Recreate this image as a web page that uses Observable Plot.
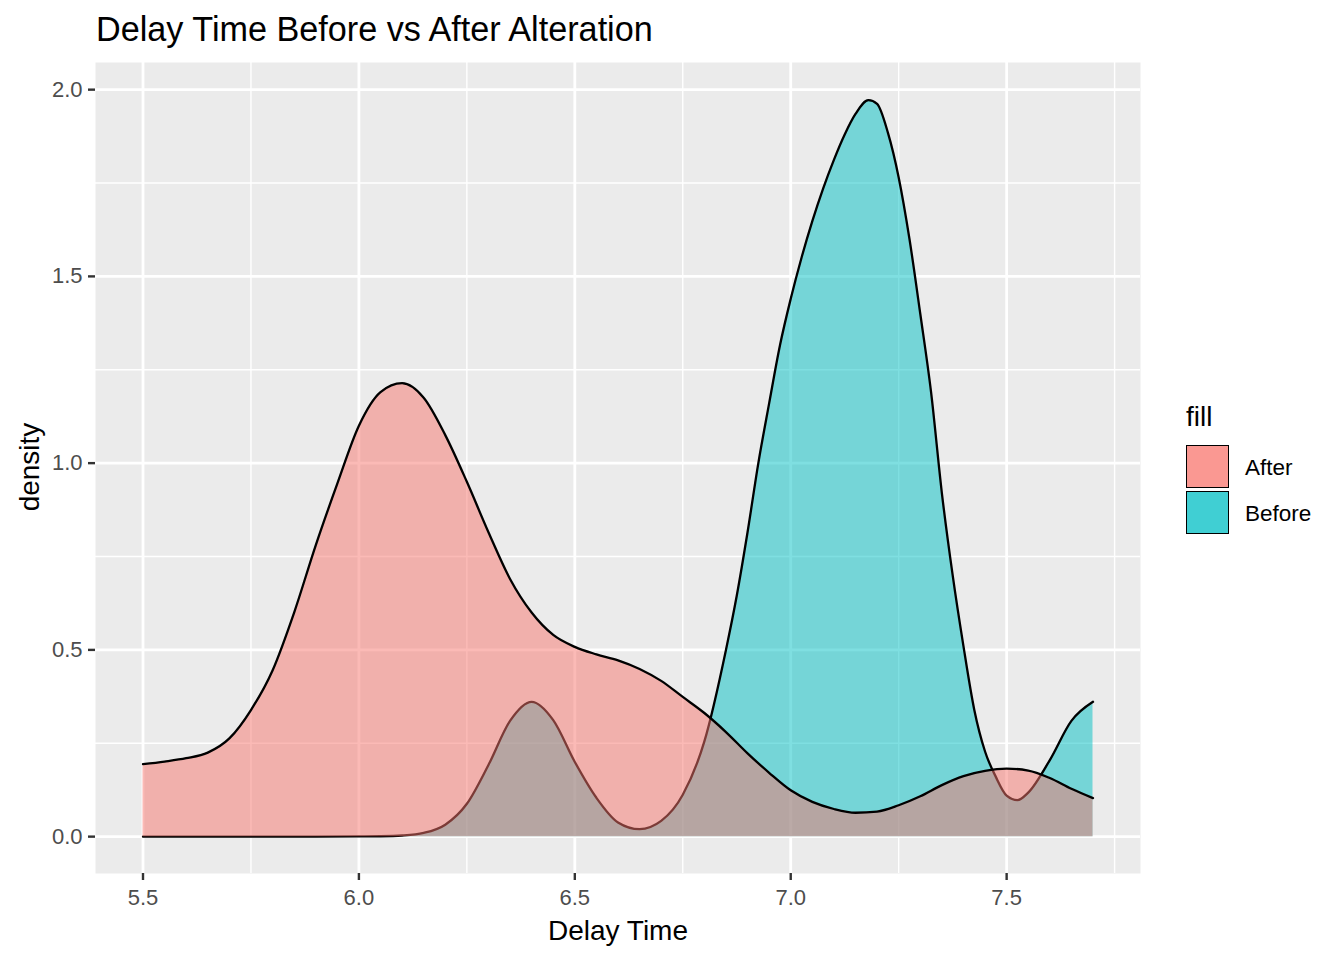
<!DOCTYPE html>
<html><head><meta charset="utf-8">
<script src="https://cdn.jsdelivr.net/npm/d3@7"></script>
<script src="https://cdn.jsdelivr.net/npm/@observablehq/plot@0.6"></script>
<style>
body{margin:0;background:#fff;font-family:"Liberation Sans",Arial,sans-serif;}
#wrap{position:relative;width:1344px;height:960px;overflow:hidden;}
#wrap svg{position:absolute;left:0;top:0;font-family:"Liberation Sans",Arial,sans-serif;}
.t{position:absolute;white-space:nowrap;color:#000;line-height:1;}
.key{position:absolute;width:41px;height:41px;border:1.6px solid #000;}
</style></head><body><div id="wrap"></div>
<script>
const title = "Delay Time Before vs After Alteration";
const xTitle = "Delay Time";
const yTitle = "density";
const legendTitle = "fill";
const groups = ["After", "Before"];
const groupColors = ["#F8766D", "#00BFC4"];
const keyColors = ["#FA9892", "#40CFD3"];

const afterX = [5.50,5.55,5.60,5.65,5.70,5.75,5.80,5.85,5.90,5.95,6.00,6.05,6.10,6.15,6.20,6.25,6.30,6.35,6.40,6.45,6.50,6.55,6.60,6.65,6.70,6.75,6.80,6.85,6.90,6.95,7.00,7.05,7.10,7.15,7.20,7.25,7.30,7.35,7.40,7.45,7.50,7.55,7.60,7.65,7.70];
const afterY = [0.194,0.201,0.210,0.225,0.263,0.339,0.445,0.600,0.780,0.945,1.100,1.190,1.214,1.175,1.075,0.950,0.815,0.690,0.600,0.540,0.508,0.488,0.472,0.449,0.417,0.374,0.331,0.280,0.223,0.171,0.124,0.093,0.074,0.064,0.067,0.084,0.108,0.138,0.162,0.176,0.182,0.177,0.157,0.128,0.103];

const beforeX = [5.50,5.60,5.70,5.80,5.90,6.00,6.05,6.10,6.15,6.20,6.25,6.30,6.35,6.40,6.45,6.50,6.55,6.60,6.65,6.70,6.75,6.80,6.85,6.875,6.90,6.925,6.95,6.975,7.00,7.025,7.05,7.075,7.10,7.125,7.15,7.18,7.20,7.225,7.25,7.275,7.30,7.325,7.35,7.375,7.40,7.425,7.45,7.475,7.50,7.525,7.55,7.60,7.65,7.70];
const beforeY = [0,0,0,0,0,0.0005,0.001,0.003,0.010,0.032,0.088,0.192,0.310,0.361,0.312,0.200,0.104,0.038,0.020,0.042,0.112,0.255,0.500,0.645,0.815,1.000,1.160,1.315,1.440,1.550,1.648,1.735,1.812,1.880,1.935,1.972,1.962,1.885,1.765,1.600,1.400,1.190,0.920,0.700,0.510,0.340,0.228,0.160,0.110,0.098,0.118,0.205,0.310,0.361];

const xMajor = [5.5, 6.0, 6.5, 7.0, 7.5];
const xMinor = [5.25, 5.75, 6.25, 6.75, 7.25, 7.75];
const yMajor = [0, 0.5, 1.0, 1.5, 2.0];
const yMinor = [0.25, 0.75, 1.25, 1.75];

const afterData = afterX.map((x, i) => ({x, y: afterY[i]}));
const beforeData = beforeX.map((x, i) => ({x, y: beforeY[i]}));

const chart = Plot.plot({
  width: 1344, height: 960,
  marginLeft: 95, marginRight: 204, marginTop: 62, marginBottom: 87,
  style: {background: "transparent", fontFamily: "Liberation Sans, Arial, sans-serif"},
  x: {domain: [5.39, 7.81], label: null},
  y: {domain: [-0.0987, 2.0727], label: null},
  marks: [
    Plot.frame({fill: "#EBEBEB", stroke: null}),
    Plot.ruleX(xMinor, {stroke: "#fff", strokeWidth: 1.4}),
    Plot.ruleY(yMinor, {stroke: "#fff", strokeWidth: 1.4}),
    Plot.ruleX(xMajor, {stroke: "#fff", strokeWidth: 2.8}),
    Plot.ruleY(yMajor, {stroke: "#fff", strokeWidth: 2.8}),
    Plot.areaY(beforeData, {x: "x", y: "y", fill: groupColors[1], fillOpacity: 0.5, curve: "monotone-x"}),
    Plot.lineY(beforeData, {x: "x", y: "y", stroke: "#000", strokeWidth: 2.3, curve: "monotone-x"}),
    Plot.areaY(afterData, {x: "x", y: "y", fill: groupColors[0], fillOpacity: 0.5, curve: "monotone-x"}),
    Plot.lineY(afterData, {x: "x", y: "y", stroke: "#000", strokeWidth: 2.3, curve: "monotone-x"}),
    Plot.axisX(xMajor, {tickSize: 7, tickPadding: 9, tickFormat: d => d.toFixed(1), fontSize: 22, stroke: "#333333", fill: "#4D4D4D", strokeWidth: 2.4, label: null}),
    Plot.axisY(yMajor, {tickSize: 7, tickPadding: 6, tickFormat: d => d.toFixed(1), fontSize: 22, stroke: "#333333", fill: "#4D4D4D", strokeWidth: 2.4, label: null})
  ]
});
const wrap = document.getElementById("wrap");
wrap.appendChild(chart);

function addText(txt, left, top, size, extra) {
  const d = document.createElement("div");
  d.className = "t";
  d.textContent = txt;
  d.style.left = left + "px";
  d.style.top = top + "px";
  d.style.fontSize = size + "px";
  if (extra) Object.assign(d.style, extra);
  wrap.appendChild(d);
  return d;
}
addText(title, 96, 12, 34.2);
addText(xTitle, 618, 917, 28, {transform: "translateX(-50%)"});
addText(yTitle, 30, 467, 28, {transform: "translate(-50%,-50%) rotate(-90deg)", transformOrigin: "50% 50%", left: "30px"});
addText(legendTitle, 1186, 403, 28);
groups.forEach((g, i) => {
  const k = document.createElement("div");
  k.className = "key";
  k.style.left = "1186px";
  k.style.top = (445 + i * 45.5) + "px";
  k.style.background = keyColors[i];
  wrap.appendChild(k);
  addText(g, 1245, 457 + i * 46, 22.5);
});
</script>
</body></html>
